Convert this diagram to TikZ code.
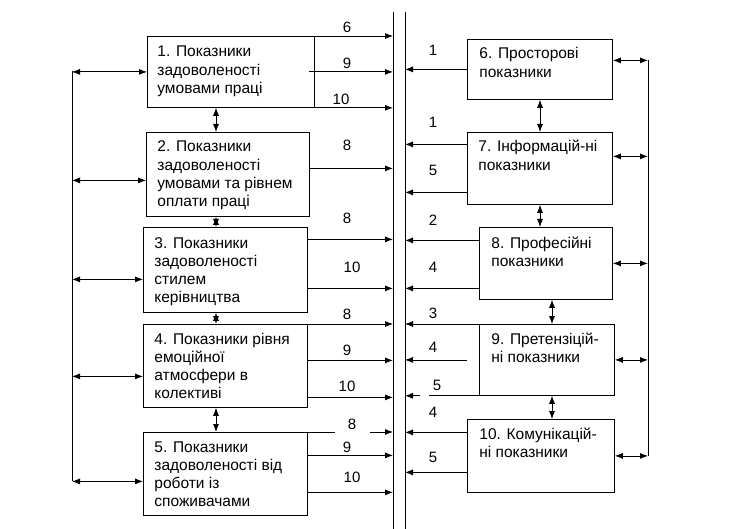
\documentclass[tikz,border=0pt]{standalone}
\usepackage{fontspec}
\setmainfont{Liberation Sans}
\usetikzlibrary{arrows.meta,positioning}

\begin{document}
\begin{tikzpicture}[x=1pt, y=-1pt, line width=0.8pt,
  box/.style={rectangle, draw, anchor=north west, inner sep=0pt},
  txt/.style={anchor=base west, align=left, inner sep=0pt, font=\fontsize{15.5}{18.3}\selectfont},
  lbl/.style={inner sep=1pt, font=\fontsize{15}{17}\selectfont},
  line/.style={draw, -{Latex[length=8pt,width=6pt]}},
  dline/.style={draw, {Latex[length=8pt,width=6pt]}-{Latex[length=8pt,width=6pt]}}]

  \useasboundingbox (0,0) rectangle (730,529);

  % buses
  \coordinate (lbT) at (393,12);  \coordinate (lbB) at (393,529);
  \coordinate (rbT) at (405,12);  \coordinate (rbB) at (405,529);
  \coordinate (obT) at (72,71);   \coordinate (obB) at (72,481);
  \coordinate (pbT) at (648,60);  \coordinate (pbB) at (648,456);
  \coordinate (cl) at (216,0);
  \coordinate (cr) at (540,0);
  \coordinate (cr2) at (552,0);
  \draw (lbT) -- (lbB);
  \draw (rbT) -- (rbB);
  \draw (obT) -- (obB);
  \draw (pbT) -- (pbB);

  % left boxes
  \node[box, minimum width=167pt, minimum height=71pt] (b1) at (147,36) {};
  \node[box, minimum width=163pt, minimum height=84pt] (b2) at (146,132) {};
  \node[box, minimum width=164pt, minimum height=85pt] (b3) at (143,227) {};
  \node[box, minimum width=164pt, minimum height=83pt] (b4) at (143,324) {};
  \node[box, minimum width=164pt, minimum height=83pt] (b5) at (143,432) {};
  \node[txt] (t1) at ([xshift=10pt,yshift=-57.6pt]b1.north west) {1. Показники\\задоволеності\\умовами праці};
  \node[txt] (t2) at ([xshift=11pt,yshift=-74.9pt]b2.north west) {2. Показники\\задоволеності\\умовами та рівнем\\оплати праці};
  \node[txt] (t3) at ([xshift=11pt,yshift=-75.9pt]b3.north west) {3. Показники\\задоволеності\\стилем\\керівництва};
  \node[txt] (t4) at ([xshift=11pt,yshift=-74.9pt]b4.north west) {4. Показники рівня\\емоційної\\атмосфери в\\колективі};
  \node[txt] (t5) at ([xshift=11pt,yshift=-74.9pt]b5.north west) {5. Показники\\задоволеності від\\роботи із\\споживачами};

  % right boxes
  \node[box, minimum width=145pt, minimum height=60pt] (b6) at (467,39) {};
  \node[box, minimum width=145pt, minimum height=72pt] (b7) at (467,132) {};
  \node[box, minimum width=133pt, minimum height=72pt] (b8) at (479,227) {};
  \node[box, minimum width=135pt, minimum height=71pt] (b9) at (479,324) {};
  \node[box, minimum width=147pt, minimum height=73pt] (b10) at (467,419) {};
  \node[txt] (t6) at ([xshift=12pt,yshift=-38.3pt]b6.north west) {6. Просторові\\показники};
  \node[txt] (t7) at ([xshift=11pt,yshift=-38.3pt]b7.north west) {7. Інформацій-ні\\показники};
  \node[txt] (t8) at ([xshift=12pt,yshift=-39.3pt]b8.north west) {8. Професійні\\показники};
  \node[txt] (t9) at ([xshift=12pt,yshift=-38.3pt]b9.north west) {9. Претензіцій-\\ні показники};
  \node[txt] (t10) at ([xshift=12pt,yshift=-38.3pt]b10.north west) {10. Комунікацій-\\ні показники};

  % left boxes to bus
  \draw[line] (b1.north east) -- (b1.north east -| lbT);
  \draw[line] ([xshift=-6pt]b1.east) -- (b1.east -| lbT);
  \draw[line] (b1.south east) -- (b1.south east -| lbT);
  \draw[line] ([yshift=6pt]b2.east) -- ([yshift=6pt]b2.east -| lbT);
  \draw[line] ([yshift=30.5pt]b3.east) -- ([yshift=30.5pt]b3.east -| lbT);
  \draw[line] ([yshift=-18.5pt]b3.east) -- ([yshift=-18.5pt]b3.east -| lbT);
  \draw[line] (b4.north east) -- (b4.north east -| lbT);
  \draw[line] ([yshift=5.5pt]b4.east) -- ([yshift=5.5pt]b4.east -| lbT);
  \draw[line] ([yshift=-31.5pt]b4.east) -- ([yshift=-31.5pt]b4.east -| lbT);
  \draw[line] (b5.north east) -- (b5.north east -| lbT);
  \draw[line] ([yshift=18.5pt]b5.east) -- ([yshift=18.5pt]b5.east -| lbT);
  \draw[line] ([yshift=-18.5pt]b5.east) -- ([yshift=-18.5pt]b5.east -| lbT);

  \node[lbl] (l1a) at (347,27) {6};
  \node[lbl] (l1b) at (347,63) {9};
  \node[lbl] (l1c) at (341,99) {10};
  \node[lbl] (l2a) at (347,145) {8};
  \node[lbl] (l3a) at (347,218) {8};
  \node[lbl] (l3b) at (352,267) {10};
  \node[lbl] (l4a) at (347,314) {8};
  \node[lbl] (l4b) at (347,350) {9};
  \node[lbl] (l4c) at (347,386) {10};
  \node[lbl, fill=white, minimum width=35pt, minimum height=22pt] (l5a) at (352,424) {8};
  \node[lbl] (l5b) at (347,447) {9};
  \node[lbl] (l5c) at (352,477) {10};

  % right boxes to bus
  \draw[line] (b6.west) -- (b6.west -| rbT);
  \draw[line] ([yshift=24pt]b7.west) -- ([yshift=24pt]b7.west -| rbT);
  \draw[line] ([yshift=-24pt]b7.west) -- ([yshift=-24pt]b7.west -| rbT);
  \draw[line] ([yshift=23pt]b8.west) -- ([yshift=23pt]b8.west -| rbT);
  \draw[line] ([yshift=-25pt]b8.west) -- ([yshift=-25pt]b8.west -| rbT);
  \draw[line] (b9.north west) -- (b9.north west -| rbT);
  \draw[line] ([xshift=-12pt]b9.west) -- (b9.west -| rbT);
  \draw (b9.south west) -- ([xshift=-50pt]b9.south west);
  \draw[line] ([xshift=-59pt]b9.south west) -- (b9.south west -| rbT);
  \draw[line] ([yshift=23.5pt]b10.west) -- ([yshift=23.5pt]b10.west -| rbT);
  \draw[line] ([yshift=-16.5pt]b10.west) -- ([yshift=-16.5pt]b10.west -| rbT);

  \node[lbl] (r6a) at (433,50) {1};
  \node[lbl] (r7a) at (433,122) {1};
  \node[lbl] (r7b) at (433,170) {5};
  \node[lbl] (r8a) at (433,220) {2};
  \node[lbl] (r8b) at (433,267) {4};
  \node[lbl] (r9a) at (433,313) {3};
  \node[lbl] (r9b) at (433,347) {4};
  \node[lbl] (r9c) at (437,385) {5};
  \node[lbl] (r10a) at (433,412) {4};
  \node[lbl] (r10b) at (433,457) {5};

  % outer left bus
  \draw[dline] (b1.west -| obT) -- (b1.west);
  \draw[dline] ([yshift=-6pt]b2.west -| obT) -- ([yshift=-6pt]b2.west);
  \draw[dline] ([yshift=-9.5pt]b3.west -| obT) -- ([yshift=-9.5pt]b3.west);
  \draw[dline] ([yshift=-10.5pt]b4.west -| obT) -- ([yshift=-10.5pt]b4.west);
  \draw[dline] ([yshift=-7.5pt]b5.west -| obT) -- ([yshift=-7.5pt]b5.west);

  % outer right bus
  \draw[dline] ([yshift=9pt]b6.east) -- ([yshift=9pt]b6.east -| pbT);
  \draw[dline] ([yshift=12pt]b7.east) -- ([yshift=12pt]b7.east -| pbT);
  \draw[dline] (b8.east) -- (b8.east -| pbT);
  \draw[dline] (b9.east) -- (b9.east -| pbT);
  \draw[dline] (b10.east) -- (b10.east -| pbT);

  % between boxes
  \draw[dline] (b1.south -| cl) -- (b2.north -| cl);
  \draw[dline] (b2.south -| cl) -- (b3.north -| cl);
  \draw[dline] (b3.south -| cl) -- (b4.north -| cl);
  \draw[dline] (b4.south -| cl) -- (b5.north -| cl);
  \draw[dline] (b6.south -| cr) -- (b7.north -| cr);
  \draw[dline] (b7.south -| cr) -- (b8.north -| cr);
  \draw[dline] (b8.south -| cr2) -- (b9.north -| cr2);
  \draw[dline] (b9.south -| cr2) -- (b10.north -| cr2);
\end{tikzpicture}
\end{document}
